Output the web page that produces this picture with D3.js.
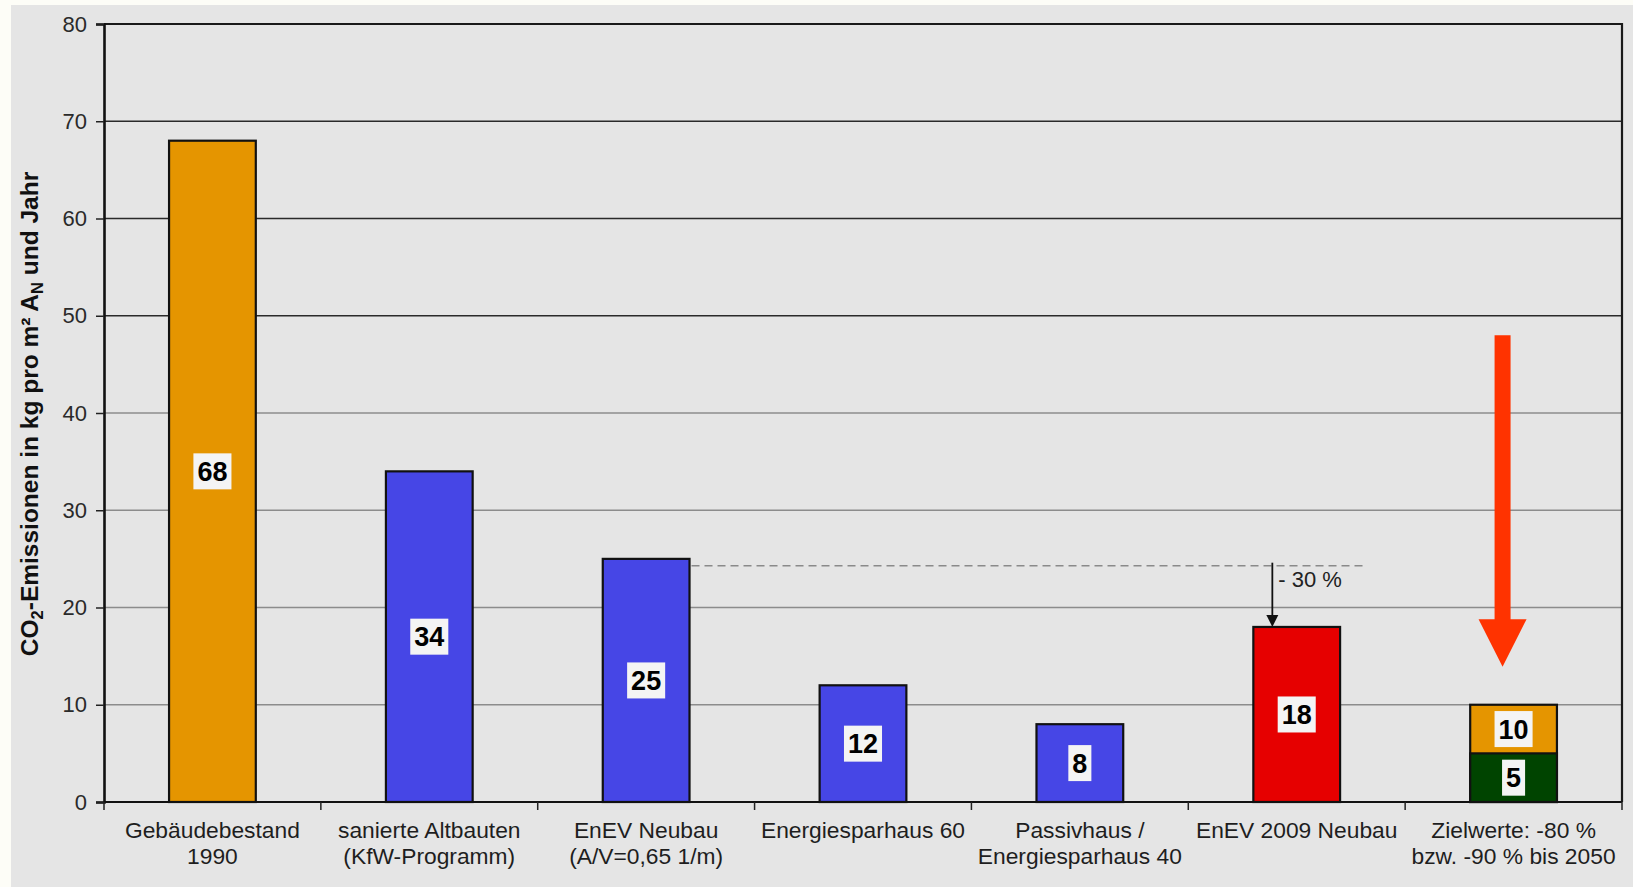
<!DOCTYPE html>
<html>
<head>
<meta charset="utf-8">
<script src="https://cdn.jsdelivr.net/npm/d3@7"></script>
<style>
  html, body { margin: 0; padding: 0; background: #fdfdf7; }
  svg { display: block; }
  text { font-family: "Liberation Sans", Arial, sans-serif; }
</style>
</head>
<body>
<svg id="chart" width="1633" height="887"></svg>
<script>
// Category labels (one entry per line of the axis label)
const categories = [
  ["Gebäudebestand", "1990"],
  ["sanierte Altbauten", "(KfW-Programm)"],
  ["EnEV Neubau", "(A/V=0,65 1/m)"],
  ["Energiesparhaus 60"],
  ["Passivhaus /", "Energiesparhaus 40"],
  ["EnEV 2009 Neubau"],
  ["Zielwerte: -80 %", "bzw. -90 % bis 2050"]
];
// CO2 emissions in kg per m² A_N and year
const emissions = [68, 34, 25, 12, 8, 18, 10];
// Target value for -90 % (drawn inside the last bar)
const target90 = [null, null, null, null, null, null, 5];
const barKinds = ["bestand", "saniert", "saniert", "saniert", "saniert", "enev2009", "ziel80"];
const yTicks = [0, 10, 20, 30, 40, 50, 60, 70, 80];

// Reference level of EnEV Neubau and the -30 % step to EnEV 2009
const refLevel = 24.3;
const reductionLabel = "- 30 %";
// Large downward arrow toward the 2050 targets (value units)
const bigArrow = { top: 48, headBase: 18.8, tip: 13.9 };

const colors = {
  bestand: "#e59500",
  saniert: "#4646e6",
  enev2009: "#e60000",
  ziel80: "#e59500",
  ziel90: "#004400",
  arrow: "#ff3300"
};

const svg = d3.select("#chart");
const W = 1633, H = 887;
const plot = { left: 104, right: 1622, top: 24, bottom: 802 };

// panel background
svg.append("rect").attr("x", 11).attr("y", 5).attr("width", W - 11).attr("height", H - 5)
  .attr("fill", "#e5e5e5");

const keys = categories.map(c => c.join(" "));
const x = d3.scaleBand().domain(keys)
  .range([plot.left, plot.right]).paddingInner(0.6).paddingOuter(0.3);
const y = d3.scaleLinear().domain([0, 80]).range([plot.bottom, plot.top]);

// gridlines
svg.append("g").selectAll("line").data(yTicks.filter(v => v > 0 && v < 80)).join("line")
  .attr("x1", plot.left).attr("x2", plot.right)
  .attr("y1", d => y(d)).attr("y2", d => y(d))
  .attr("stroke", d => d >= 50 ? "#2a2a2a" : "#8c8c8c")
  .attr("stroke-width", 1.6);

// plot frame (top and right)
svg.append("path")
  .attr("d", `M${plot.left},${y(80)}H${plot.right}V${y(0)}`)
  .attr("fill", "none").attr("stroke", "#1a1a1a").attr("stroke-width", 2.2);

// y axis
const yAxis = svg.append("g").attr("transform", `translate(${plot.left},0)`)
  .call(d3.axisLeft(y).tickValues(yTicks).tickSize(8).tickPadding(9));
yAxis.select(".domain").attr("stroke", "#111").attr("stroke-width", 2.6);
yAxis.selectAll(".tick line").attr("stroke", "#222").attr("stroke-width", 1.5);
yAxis.selectAll(".tick text").attr("font-size", 22).attr("fill", "#2a2a2a")
  .attr("font-family", "\"Liberation Sans\", Arial, sans-serif");

// bars
const barData = emissions.map((v, i) => ({ key: keys[i], value: v, kind: barKinds[i] }));
svg.append("g").selectAll("rect").data(barData).join("rect")
  .attr("x", d => x(d.key)).attr("width", x.bandwidth())
  .attr("y", d => y(d.value)).attr("height", d => y(0) - y(d.value))
  .attr("fill", d => colors[d.kind]).attr("stroke", "#111").attr("stroke-width", 2.2);

const innerData = target90.map((v, i) => ({ key: keys[i], value: v })).filter(d => d.value != null);
svg.append("g").selectAll("rect").data(innerData).join("rect")
  .attr("x", d => x(d.key)).attr("width", x.bandwidth())
  .attr("y", d => y(d.value)).attr("height", d => y(0) - y(d.value))
  .attr("fill", colors.ziel90).attr("stroke", "#111").attr("stroke-width", 2.2);

// x axis baseline and boundary ticks
svg.append("line").attr("x1", plot.left).attr("x2", plot.right)
  .attr("y1", y(0)).attr("y2", y(0)).attr("stroke", "#111").attr("stroke-width", 2.2);
const step = x.step();
const bounds = d3.range(keys.length + 1).map(i => plot.left + i * step);
svg.append("g").selectAll("line").data(bounds).join("line")
  .attr("x1", d => d).attr("x2", d => d)
  .attr("y1", y(0)).attr("y2", y(0) + 8)
  .attr("stroke", "#222").attr("stroke-width", 1.5);

// category labels
const xl = svg.append("g");
categories.forEach((lines, i) => {
  const cx = x(keys[i]) + x.bandwidth() / 2;
  lines.forEach((ln, j) => {
    xl.append("text").attr("x", cx).attr("y", 838 + j * 26)
      .attr("text-anchor", "middle").attr("font-size", 22.8).attr("fill", "#1e1e1e")
      .text(ln);
  });
});

// value labels in white boxes
function valueLabel(cx, cy, txt) {
  const g = svg.append("g");
  const t = g.append("text").attr("x", cx).attr("y", cy + 9.5)
    .attr("text-anchor", "middle").attr("font-size", 27).attr("font-weight", "bold")
    .attr("fill", "#000").text(txt);
  const w = t.node().getComputedTextLength();
  g.insert("rect", "text").attr("x", cx - w / 2 - 4).attr("y", cy - 18)
    .attr("width", w + 8).attr("height", 36).attr("fill", "#f4f4f4");
}
barData.forEach((d, i) => {
  const cx = x(d.key) + x.bandwidth() / 2;
  const base = target90[i] != null ? target90[i] : 0;
  valueLabel(cx, y((d.value + base) / 2), String(d.value));
});
innerData.forEach(d => {
  const cx = x(d.key) + x.bandwidth() / 2;
  valueLabel(cx, y(d.value / 2), String(d.value));
});

// -30 % reference: dashed line from EnEV Neubau to EnEV 2009
const kRef = keys[2], k2009 = keys[5];
svg.append("line")
  .attr("x1", x(kRef) + x.bandwidth() + 2).attr("x2", x(k2009) + x.bandwidth() + 25)
  .attr("y1", y(refLevel)).attr("y2", y(refLevel))
  .attr("stroke", "#8a8a8a").attr("stroke-width", 1.5).attr("stroke-dasharray", "8,5");
const ax = x(k2009) + 19;
svg.append("line").attr("x1", ax).attr("x2", ax)
  .attr("y1", y(refLevel) - 3).attr("y2", y(emissions[5]) - 8)
  .attr("stroke", "#111").attr("stroke-width", 1.8);
svg.append("path")
  .attr("d", `M${ax - 6},${y(emissions[5]) - 12}L${ax + 6},${y(emissions[5]) - 12}L${ax},${y(emissions[5])}Z`)
  .attr("fill", "#111");
svg.append("text").attr("x", ax + 6).attr("y", y(refLevel) + 21)
  .attr("font-size", 22).attr("fill", "#222").text(reductionLabel);

// big red arrow toward the 2050 targets
const bx = x(keys[6]) + x.bandwidth() / 2 - 11;
svg.append("path")
  .attr("d", `M${bx - 8},${y(bigArrow.top)}H${bx + 8}V${y(bigArrow.headBase)}H${bx + 24}` +
             `L${bx},${y(bigArrow.tip)}L${bx - 24},${y(bigArrow.headBase)}H${bx - 8}Z`)
  .attr("fill", colors.arrow);

// y-axis title
const yt = svg.append("text")
  .attr("transform", "translate(38,414) rotate(-90)")
  .attr("text-anchor", "middle").attr("font-size", 24.5).attr("font-weight", "bold")
  .attr("fill", "#111");
yt.append("tspan").text("CO");
yt.append("tspan").attr("font-size", 16.5).attr("dy", 5).text("2");
yt.append("tspan").attr("dy", -5).text("-Emissionen in kg pro m² A");
yt.append("tspan").attr("font-size", 16.5).attr("dy", 5).text("N");
yt.append("tspan").attr("dy", -5).text(" und Jahr");
</script>
</body>
</html>
